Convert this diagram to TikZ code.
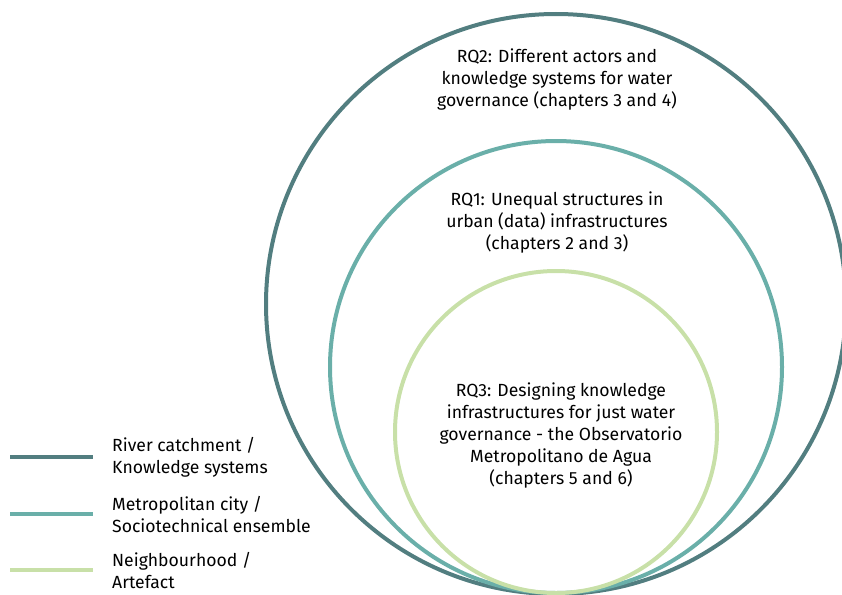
\documentclass[tikz,border=0pt]{standalone}
\usepackage{fontspec}
\setmainfont{Fira Sans}
\definecolor{cOuter}{HTML}{527E80}
\definecolor{cMid}{HTML}{6AAFA9}
\definecolor{cInner}{HTML}{C8E0A8}
\begin{document}
\begin{tikzpicture}[x=1pt,y=-1pt,
  ring/.style={line width=4pt},
  rqtext/.style={align=center,font=\fontsize{17.6}{22}\selectfont,inner sep=0pt},
  legtext/.style={align=left,anchor=west,font=\fontsize{17.6}{22}\selectfont,inner sep=0pt},
  legline/.style={line width=4pt}]
\useasboundingbox (0,0) rectangle (842,594);
\begin{scope}
\clip (0,0) rectangle (842,594);
\draw[ring,cOuter] (556,304) circle (290);
\draw[ring,cMid] (556,367) circle (226);
\draw[ring,cInner] (556,432) circle (161);
\end{scope}
\node[rqtext] (rq2) at (557,80) {RQ2: Different actors and\\knowledge systems for water\\governance (chapters 3 and 4)};
\node[rqtext] (rq1) at (557,223) {RQ1: Unequal structures in\\urban (data) infrastructures\\(chapters 2 and 3)};
\node[rqtext] (rq3) at (561,436) {RQ3: Designing knowledge\\infrastructures for just water\\governance - the Observatorio\\Metropolitano de Agua\\(chapters 5 and 6)};
\coordinate (l1a) at (10,457); \coordinate (l1b) at (93,457);
\coordinate (l2a) at (10,514); \coordinate (l2b) at (93,514);
\coordinate (l3a) at (10,570); \coordinate (l3b) at (93,570);
\draw[legline,cOuter] (l1a) -- (l1b);
\draw[legline,cMid] (l2a) -- (l2b);
\draw[legline,cInner] (l3a) -- (l3b);
\node[legtext] (t1) at (112,457) {River catchment /\\Knowledge systems};
\node[legtext] (t2) at (112,514) {Metropolitan city /\\Sociotechnical ensemble};
\node[legtext] (t3) at (112,570) {Neighbourhood /\\Artefact};
\end{tikzpicture}
\end{document}
